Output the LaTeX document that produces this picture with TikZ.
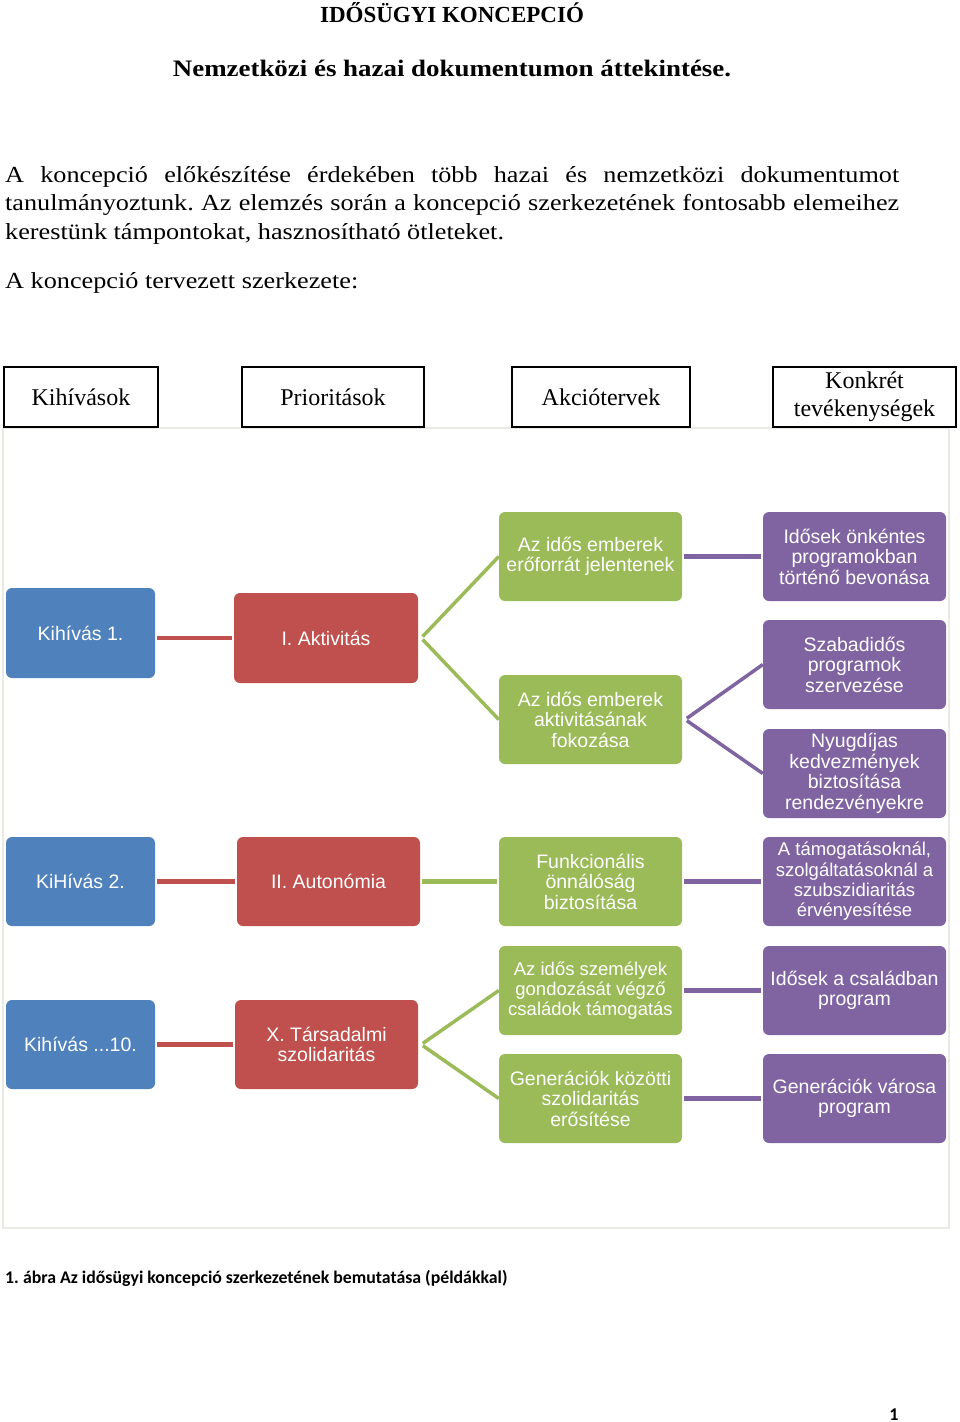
\documentclass[tikz,border=0pt]{standalone}
\usepackage{fontspec}
\setmainfont{Liberation Serif}
\newfontfamily\wideserif[FakeStretch=1.14]{Liberation Serif}
\newfontfamily\chartfont{Liberation Sans}
\newfontfamily\capfont{Carlito}
\usetikzlibrary{calc}
\definecolor{cblue}{HTML}{4F81BD}
\definecolor{cred}{HTML}{C0504D}
\definecolor{cgreen}{HTML}{9BBB59}
\definecolor{cpurple}{HTML}{8064A2}
\definecolor{framegray}{HTML}{EAEAE4}
\frenchspacing
\begin{document}
\begin{tikzpicture}[x=1pt,y=-1pt,
  hdr/.style={draw=black, line width=1.1pt, fill=white, minimum height=60pt, inner sep=0pt, align=center,
    font=\fontsize{24}{28}\selectfont},
  sa/.style={rounded corners=6pt, text=white, inner sep=2pt, minimum height=89pt, minimum width=183pt,
    align=center, font=\chartfont\fontsize{19.5}{20.5}\selectfont},
  chal/.style={sa, fill=cblue, minimum width=149pt},
  prio/.style={sa, fill=cred, minimum width=184pt},
  act/.style={sa, fill=cgreen},
  task/.style={sa, fill=cpurple},
  small/.style={font=\chartfont\fontsize{18.5}{20.3}\selectfont},
  conn/.style={line width=4.5pt, shorten <=2pt, shorten >=2pt},
  fork/.style={line width=3.5pt, shorten <=2pt},
  txt/.style={inner sep=0pt, anchor=base west, font=\wideserif\fontsize{23}{29}\selectfont}
]
\useasboundingbox (0,0) rectangle (960,1422);
\fill[white] (0,0) rectangle (960,1422);

% titles
\node[inner sep=0pt, anchor=base, font=\bfseries\fontsize{23}{28}\selectfont] (title) at (452,22) {IDŐSÜGYI KONCEPCIÓ};
\node[inner sep=0pt, anchor=base, font=\wideserif\bfseries\fontsize{23.6}{28}\selectfont] (subtitle) at (452,76) {Nemzetközi és hazai dokumentumon áttekintése.};

% paragraph
\node[txt] (l1) at (5,182) {\makebox[894pt][s]{A koncepció előkészítése érdekében több hazai és nemzetközi dokumentumot}};
\node[txt] (l2) at (5,210.5) {\makebox[894pt][s]{tanulmányoztunk. Az elemzés során a koncepció szerkezetének fontosabb elemeihez}};
\node[txt] (l3) at (5,239) {kerestünk támpontokat, hasznosítható ötleteket.};
\node[txt] (l4) at (5,288) {A koncepció tervezett szerkezete:};

% chart frame
\draw[framegray, line width=1.5pt] (3,428) rectangle (949,1228);

% header boxes
\node[hdr, minimum width=154pt] (h1) at (81,397) {Kihívások};
\node[hdr, minimum width=182pt] (h2) at (333,397) {Prioritások};
\node[hdr, minimum width=178pt] (h3) at (601,397) {Akciótervek};
\node[hdr, minimum width=183pt] (h4) at (864.5,397) {Konkrét\\tevékenységek};

% challenges
\node[chal, minimum height=90pt] (k1) at (80.5,633) {Kihívás 1.};
\node[chal] (k2) at (80.5,881.5) {KiHívás 2.};
\node[chal] (k3) at (80.5,1044.5) {Kihívás ...10.};

% priorities
\node[prio, minimum height=90pt] (p1) at (326,638) {I. Aktivitás};
\node[prio, minimum width=183pt] (p2) at (328.5,881.5) {II. Autonómia};
\node[prio, minimum width=183pt] (p3) at (326.5,1044.5) {X. Társadalmi\\szolidaritás};

% action plans
\node[act] (g1) at (590.5,556.5) {Az idős emberek\\erőforrát jelentenek};
\node[act] (g2) at (590.5,719.5) {Az idős emberek\\aktivitásának\\fokozása};
\node[act] (g3) at (590.5,881.5) {Funkcionális\\önnálóság\\biztosítása};
\node[act, small] (g4) at (590.5,990.5) {Az idős személyek\\gondozását végző\\családok támogatás};
\node[act] (g5) at (590.5,1098.5) {Generációk közötti\\szolidaritás\\erősítése};

% concrete activities
\node[task] (u1) at (854.5,556.5) {Idősek önkéntes\\programokban\\történő bevonása};
\node[task] (u2) at (854.5,664.5) {Szabadidős\\programok\\szervezése};
\node[task] (u3) at (854.5,773.5) {Nyugdíjas\\kedvezmények\\biztosítása\\rendezvényekre};
\node[task, small] (u4) at (854.5,881.5) {A támogatásoknál,\\szolgáltatásoknál a\\szubszidiaritás\\érvényesítése};
\node[task] (u5) at (854.5,990.5) {Idősek a családban\\program};
\node[task] (u6) at (854.5,1098.5) {Generációk városa\\program};

% connectors: challenge -> priority
\draw[conn, cred] (k1.east |- p1.west) -- (p1.west);
\draw[conn, cred] (k2) -- (p2);
\draw[conn, cred] (k3) -- (p3);

% priority -> action plans
\coordinate (f1) at ($(p1.east)+(3,0)$);
\draw[fork, cgreen] (f1) -- (g1.west);
\draw[fork, cgreen] (f1) -- (g2.west);
\draw[conn, cgreen] (p2) -- (g3);
\coordinate (f3) at ($(p3.east)+(3,0)$);
\draw[fork, cgreen] (f3) -- (g4.west);
\draw[fork, cgreen] (f3) -- (g5.west);

% action plans -> activities
\draw[conn, cpurple] (g1) -- (u1);
\coordinate (f2) at ($(g2.east)+(3,0)$);
\draw[fork, cpurple] (f2) -- (u2.west);
\draw[fork, cpurple] (f2) -- (u3.west);
\draw[conn, cpurple] (g3) -- (u4);
\draw[conn, cpurple] (g4) -- (u5);
\draw[conn, cpurple] (g5) -- (u6);

% caption and page number
\node[inner sep=0pt, anchor=base west, font=\capfont\bfseries\fontsize{17.8}{20}\selectfont] (cap) at (5,1283) {1. ábra Az idősügyi koncepció szerkezetének bemutatása (példákkal)};
\node[inner sep=0pt, anchor=base, font=\capfont\bfseries\fontsize{18}{20}\selectfont] (pg) at (894,1420) {1};
\end{tikzpicture}
\end{document}
